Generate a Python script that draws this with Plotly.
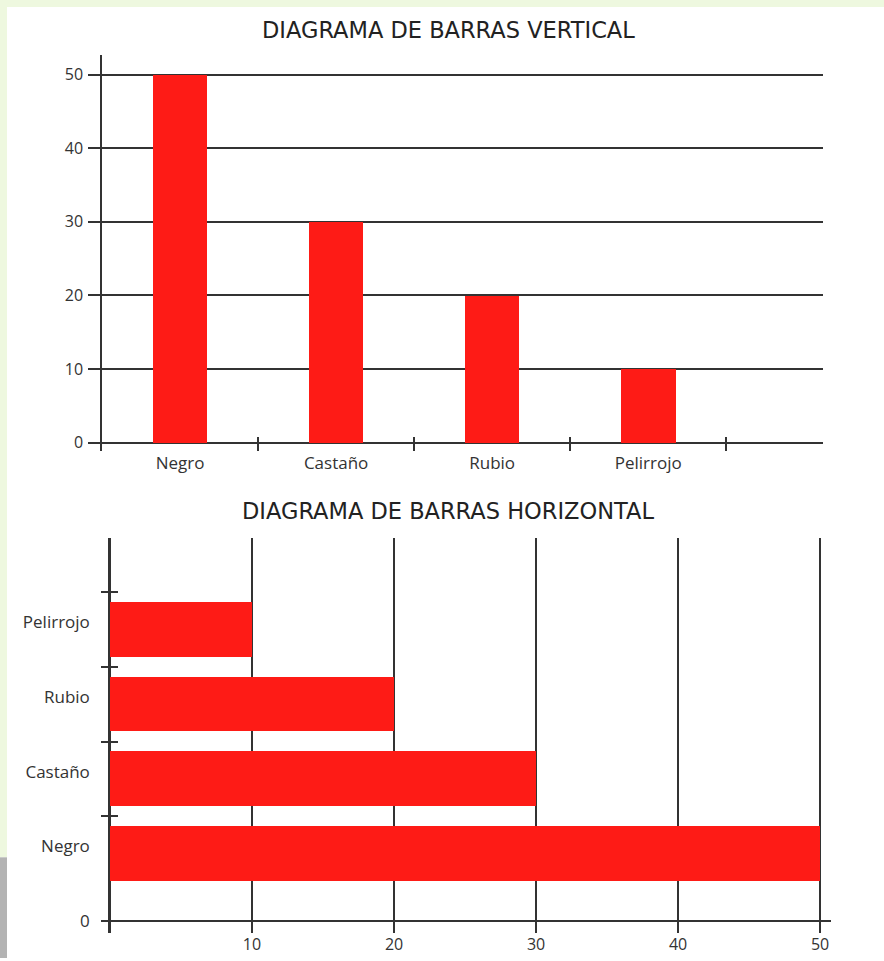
import plotly.graph_objects as go

# ---------------- data ----------------
categories = ["Negro", "Castaño", "Rubio", "Pelirrojo"]
values = [50, 30, 20, 10]
value_ticks = [0, 10, 20, 30, 40, 50]
h_value_ticks = [10, 20, 30, 40, 50]
h_label_pos = [1, 2, 3, 4]
h_tick_marks = [0, 1.4, 2.4, 3.4, 4.4]
title_top = "DIAGRAMA DE BARRAS VERTICAL"
title_bottom = "DIAGRAMA DE BARRAS HORIZONTAL"

# ---------------- style ----------------
W, H = 884, 961
RED = "#FE1B16"
INK = "#333333"
FONT = "Open Sans"
TFONT = "DejaVu Sans"
BG = "#EEF8DF"


def px_x(p):
    return p / W


def px_y(p):
    return 1 - p / H


fig = go.Figure()

fig.add_trace(go.Bar(
    x=categories, y=values, width=0.35,
    marker=dict(color=RED, line_width=0),
    xaxis="x", yaxis="y", showlegend=False, hoverinfo="skip"))

fig.add_trace(go.Bar(
    x=values, y=h_label_pos, orientation="h", width=0.73, offset=-0.465,
    marker=dict(color=RED, line_width=0),
    xaxis="x2", yaxis="y2", showlegend=False, hoverinfo="skip"))

fig.add_trace(go.Scatter(x=[], y=[], xaxis="x2", yaxis="y3",
                         showlegend=False, hoverinfo="skip"))

fig.update_layout(
    width=W, height=H, autosize=False,
    margin=dict(l=0, r=0, t=0, b=0),
    paper_bgcolor="white", plot_bgcolor="white",
    font=dict(family=FONT, color=INK, size=17),
    bargap=0,
    xaxis=dict(
        type="category", categoryorder="array", categoryarray=categories,
        domain=[px_x(102), px_x(823)], range=[-0.5, 4.12], anchor="y",
        tickson="boundaries", ticks="inside", ticklen=14, tickwidth=1.5,
        tickcolor=INK, showline=False, showgrid=False, zeroline=False,
        tickfont=dict(size=17, color=INK)),
    yaxis=dict(
        domain=[px_y(452), px_y(55)], range=[-1.08, 52.7], anchor="x",
        tickvals=value_ticks, ticks="outside", ticklen=12, tickwidth=1.5,
        tickcolor=INK, showline=True, linecolor=INK, linewidth=1.5,
        showgrid=True, gridcolor=INK, gridwidth=1.5,
        zeroline=True, zerolinecolor=INK, zerolinewidth=1.5,
        tickfont=dict(size=16, color=INK), ticklabelstandoff=2),
    xaxis2=dict(
        domain=[px_x(110), px_x(831)], range=[0, 50.77], anchor="y2",
        tickvals=h_value_ticks, ticks="", showgrid=True, gridcolor=INK,
        gridwidth=1.5, showline=False, zeroline=True, zerolinecolor=INK,
        zerolinewidth=1.5, tickfont=dict(size=16, color=INK)),
    yaxis2=dict(
        domain=[px_y(936), px_y(540)], range=[-0.16, 5.12], anchor="x2",
        tickvals=[0] + h_label_pos, ticktext=["0"] + categories,
        ticks="", showline=True, linecolor=INK, linewidth=1.5,
        showgrid=False, zeroline=True, zerolinecolor=INK, zerolinewidth=1.5,
        minor=dict(tickvals=h_tick_marks, ticks="outside", ticklen=7,
                   tickcolor=INK, tickwidth=1.5, showgrid=False),
        tickfont=dict(size=17, color=INK), ticklabelstandoff=15),
    yaxis3=dict(
        overlaying="y2", anchor="x2", side="left", range=[-0.16, 5.12],
        tickvals=h_tick_marks, ticks="inside", ticklen=8, tickwidth=1.5,
        tickcolor=INK, showticklabels=False, showline=False,
        showgrid=False, zeroline=False),
    shapes=[
        # light green frame (top and left) of the scanned page
        dict(type="rect", xref="paper", yref="paper", layer="below",
             x0=0, x1=1, y0=px_y(7), y1=1,
             fillcolor=BG, line=dict(width=0)),
        dict(type="rect", xref="paper", yref="paper", layer="below",
             x0=0, x1=px_x(7), y0=px_y(860), y1=1,
             fillcolor=BG, line=dict(width=0)),
        dict(type="rect", xref="paper", yref="paper", layer="below",
             x0=0, x1=px_x(7), y0=0, y1=px_y(860),
             fillcolor="#B3B3B3", line=dict(width=0)),
    ],
    annotations=[
        dict(text=title_top, xref="paper", yref="paper", x=px_x(448),
             y=px_y(30), showarrow=False, xanchor="center", yanchor="middle",
             font=dict(family=TFONT, size=22.5, color="#222222")),
        dict(text=title_bottom, xref="paper", yref="paper", x=px_x(448),
             y=px_y(513), showarrow=False, xanchor="center", yanchor="middle",
             font=dict(family=TFONT, size=22.5, color="#222222")),
    ],
)

fig.write_html(
    "out.html",
    config={"displayModeBar": False},
    post_script=(
        "document.body.style.margin='0';"
        "document.body.style.padding='0';"
        "document.body.style.overflow='hidden';"
        "document.body.style.background='white';"
    ),
)
